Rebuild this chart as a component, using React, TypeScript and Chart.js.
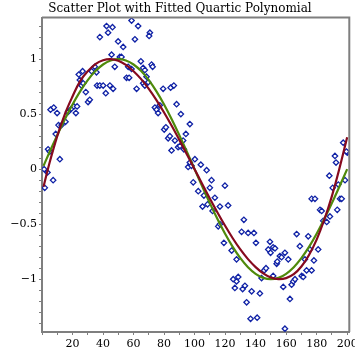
import React, { useEffect, useRef } from "react";
import { Chart, registerables } from "chart.js";

Chart.register(...registerables);

const TITLE = "Scatter Plot with Fitted Quartic Polynomial";

// scatter observations
const pointX = [
  1.8, 1.4, 3.6, 7.3, 11.7, 4.0, 5.1, 9.0, 10.8, 12.8,
  15.4, 17.1, 22.2, 5.6, 7.7, 9.9, 19.3, 20.9, 23.0, 30.2,
  31.3, 25.9, 24.8, 24.1, 26.6, 28.7, 27.0, 34.6, 32.5, 35.7,
  36.1, 37.9, 40.1, 41.8, 44.5, 46.6, 37.9, 42.3, 43.3, 46.2,
  45.6, 47.7, 49.9, 53.2, 58.7, 63.0, 60.9, 70.7, 70.2, 51.0,
  52.1, 56.5, 58.7, 55.4, 57.1, 62.0, 64.8, 66.3, 67.4, 68.5,
  71.8, 72.5, 66.3, 67.4, 69.6, 79.4, 84.3, 86.4, 88.2, 91.0,
  74.0, 75.1, 76.1, 77.2, 96.9, 80.1, 81.2, 94.3, 82.7, 83.8,
  87.1, 92.5, 84.9, 89.2, 90.4, 93.0, 100.2, 96.9, 95.8, 98.0,
  104.1, 107.9, 99.1, 111.1, 102.4, 110.0, 119.9, 106.1, 113.3, 105.2,
  108.5, 116.6, 111.8, 122.0, 115.5, 116.6, 132.3, 176.7, 178.9, 182.2,
  183.3, 184.3, 186.6, 188.7, 193.5, 195.3, 196.4, 188.3, 190.5, 192.0,
  192.7, 197.4, 200.1, 199.5, 198.6, 194.2, 119.2, 127.5, 124.3, 125.3,
  126.4, 127.5, 128.6, 130.8, 135.1, 138.9, 140.2, 131.5, 133.0, 134.1,
  136.7, 137.4, 141.0, 142.8, 145.6, 146.8, 143.9, 149.4, 148.3, 149.8,
  151.5, 152.7, 153.8, 154.2, 155.9, 157.0, 159.2, 161.4, 158.1, 162.5,
  163.6, 164.7, 165.8, 166.9, 169.0, 170.2, 171.2, 172.3, 173.4, 174.5,
  175.6, 176.7, 178.2, 181.0, 159.2, 151.5,
];
const pointY = [
  -0.17, 0.0, -0.03, -0.1, 0.09, 0.18, 0.16, 0.32, 0.4, 0.4,
  0.43, 0.52, 0.51, 0.54, 0.56, 0.51, 0.55, 0.57, 0.57, 0.61,
  0.63, 0.76, 0.81, 0.86, 0.89, 0.7, 0.78, 0.93, 0.89, 0.88,
  0.76, 0.76, 0.76, 0.69, 0.76, 0.73, 1.2, 1.3, 1.24, 1.29,
  1.04, 0.93, 1.16, 1.11, 1.35, 1.3, 1.18, 1.24, 1.21, 1.02,
  1.02, 0.93, 0.91, 0.83, 0.83, 0.73, 0.98, 0.92, 0.9, 0.84,
  0.95, 0.93, 0.78, 0.76, 0.79, 0.73, 0.74, 0.76, 0.59, 0.5,
  0.56, 0.54, 0.51, 0.58, 0.41, 0.36, 0.38, 0.32, 0.28, 0.3,
  0.26, 0.26, 0.17, 0.2, 0.21, 0.18, 0.09, 0.06, 0.02, 0.03,
  0.04, -0.01, -0.12, -0.1, -0.2, -0.17, -0.15, -0.24, -0.26, -0.34,
  -0.32, -0.34, -0.38, -0.33, -0.52, -0.5, -0.46, -0.27, -0.27, -0.37,
  -0.38, -0.47, -0.48, -0.43, -0.37, -0.27, -0.27, -0.06, -0.17, 0.12,
  0.06, 0.24, 0.15, 0.16, -0.1, -0.14, -0.67, -0.82, -0.74, -1.0,
  -1.08, -1.02, -0.98, -0.57, -0.58, -0.58, -0.67, -1.09, -1.06, -1.21,
  -1.36, -1.11, -1.35, -1.13, -0.92, -0.9, -0.99, -0.66, -0.73, -0.76,
  -0.71, -0.72, -0.86, -0.84, -0.79, -0.8, -0.76, -0.82, -1.07, -1.18,
  -1.05, -1.02, -1.0, -0.59, -0.7, -0.97, -0.98, -0.82, -0.92, -0.61,
  -0.73, -0.92, -0.83, -0.73, -1.45, -0.97,
];

// curves sampled along x
const curveX = [
  1, 5, 10, 15, 20, 25, 30, 35, 40, 45, 50, 55, 60, 65, 70, 75, 80, 85, 90, 95, 100,
  105, 110, 115, 120, 125, 130, 135, 140, 145, 150, 155, 160, 165, 170, 175, 180, 185, 190, 195, 200,
];
const quarticFit = [
  -0.16, 0.06, 0.3, 0.5, 0.66, 0.8, 0.89, 0.955, 0.99, 1.0, 0.985, 0.947, 0.89, 0.818, 0.73, 0.628, 0.515, 0.394, 0.266, 0.134, 0.0,
  -0.134, -0.266, -0.394, -0.515, -0.628, -0.73, -0.818, -0.89, -0.947, -0.985, -0.999, -0.99, -0.955, -0.885, -0.78, -0.64, -0.46, -0.245, 0.01, 0.29,
];
const trueCurve = [
  0.03, 0.156, 0.309, 0.454, 0.588, 0.707, 0.809, 0.891, 0.951, 0.988, 1.0, 0.988, 0.951, 0.891, 0.809, 0.707, 0.588, 0.454, 0.309, 0.156, 0.0,
  -0.156, -0.309, -0.454, -0.588, -0.707, -0.809, -0.891, -0.951, -0.988, -1.0, -0.988, -0.951, -0.891, -0.809, -0.707, -0.588, -0.454, -0.309, -0.156, 0.0,
];

const X_MIN = 0;
const X_MAX = 201.4;
const Y_MIN = -1.48;
const Y_MAX = 1.378;

const FONT = "'DejaVu Serif', serif";
const AXIS_GRAY = "#7f7f7f";

const frameBorder = {
  id: "frameBorder",
  afterDatasetsDraw(chart: any) {
    const { ctx, chartArea: a } = chart;
    ctx.save();
    ctx.strokeStyle = AXIS_GRAY;
    ctx.lineWidth = 2;
    ctx.beginPath();
    ctx.moveTo(a.left, a.top);
    ctx.lineTo(a.right, a.top);
    ctx.lineTo(a.right, a.bottom);
    ctx.stroke();
    ctx.restore();
  },
};

function fmtY(v: number): string {
  const r = Math.round(v * 10) / 10;
  if (Math.abs(r * 2 - Math.round(r * 2)) > 1e-6) return "";
  if (r === 0) return "0";
  const s = String(Math.abs(r));
  return r < 0 ? "\u2212" + s : s;
}

function fmtX(v: number): string {
  const r = Math.round(v);
  return r > 0 && r % 20 === 0 ? String(r) : "";
}

export default function App() {
  const ref = useRef<HTMLCanvasElement | null>(null);

  useEffect(() => {
    if (!ref.current) return;
    const scatter = pointX.map((x, i) => ({ x, y: pointY[i] }));
    const fit = curveX.map((x, i) => ({ x, y: quarticFit[i] }));
    const truth = curveX.map((x, i) => ({ x, y: trueCurve[i] }));

    const chart = new Chart(ref.current, {
      type: "scatter",
      data: {
        datasets: [
          {
            label: "data",
            data: scatter,
            showLine: false,
            pointStyle: "rectRot",
            pointRadius: 2.7,
            pointBorderWidth: 1.3,
            pointBorderColor: "#1022a6",
            pointBackgroundColor: "#ffffff",
            order: 3,
          },
          {
            label: "true",
            data: truth,
            showLine: true,
            pointRadius: 0,
            borderColor: "#4f8a0b",
            borderWidth: 2.2,
            tension: 0.4,
            fill: false,
            order: 2,
          },
          {
            label: "quartic",
            data: fit,
            showLine: true,
            pointRadius: 0,
            borderColor: "#860a1e",
            borderWidth: 2.2,
            tension: 0.4,
            fill: false,
            order: 1,
          },
        ],
      },
      options: {
        animation: false,
        responsive: false,
        events: [],
        layout: { padding: { left: 5, right: 0, top: 0, bottom: 0 } },
        plugins: {
          legend: { display: false },
          tooltip: { enabled: false },
          title: {
            display: true,
            text: TITLE,
            color: "#000",
            font: { family: FONT, size: 12, weight: "normal", lineHeight: 1.2 },
            padding: { top: 1.8, bottom: 1.3 },
          },
        },
        scales: {
          x: {
            type: "linear",
            min: X_MIN,
            max: X_MAX,
            grid: { display: true, drawOnChartArea: false, drawTicks: true, tickLength: 3, color: AXIS_GRAY, lineWidth: 1 },
            border: { display: true, color: AXIS_GRAY, width: 2 },
            ticks: {
              stepSize: 10,
              includeBounds: false,
              autoSkip: false,
              maxRotation: 0,
              padding: 3,
              color: "#000",
              font: { family: FONT, size: 11 },
              callback: (v: any) => fmtX(Number(v)),
            },
            afterFit: (s: any) => {
              s.height = 23;
              s.paddingLeft = 0;
              s.paddingRight = 0;
            },
          },
          y: {
            type: "linear",
            position: "left",
            min: Y_MIN,
            max: Y_MAX,
            grid: { display: true, drawOnChartArea: false, drawTicks: true, tickLength: 3, color: AXIS_GRAY, lineWidth: 1 },
            border: { display: true, color: AXIS_GRAY, width: 2 },
            ticks: {
              stepSize: 0.1,
              includeBounds: false,
              autoSkip: false,
              padding: 2,
              color: "#000",
              font: { family: FONT, size: 11 },
              callback: (v: any) => fmtY(Number(v)),
            },
            afterFit: (s: any) => {
              s.width = 37;
              s.paddingTop = 0;
              s.paddingBottom = 0;
            },
          },
          yR: {
            type: "linear",
            position: "right",
            display: true,
            grid: { display: false },
            border: { display: false },
            ticks: { display: false },
            afterFit: (s: any) => {
              s.width = 5.7;
              s.paddingTop = 0;
              s.paddingBottom = 0;
            },
          },
        },
      } as any,
      plugins: [frameBorder],
    });
    return () => chart.destroy();
  }, []);

  return (
    <div style={{ position: "fixed", left: 0, top: 0, width: 355, height: 355, background: "#fff" }}>
      <canvas ref={ref} width={355} height={355} style={{ display: "block" }} />
    </div>
  );
}
